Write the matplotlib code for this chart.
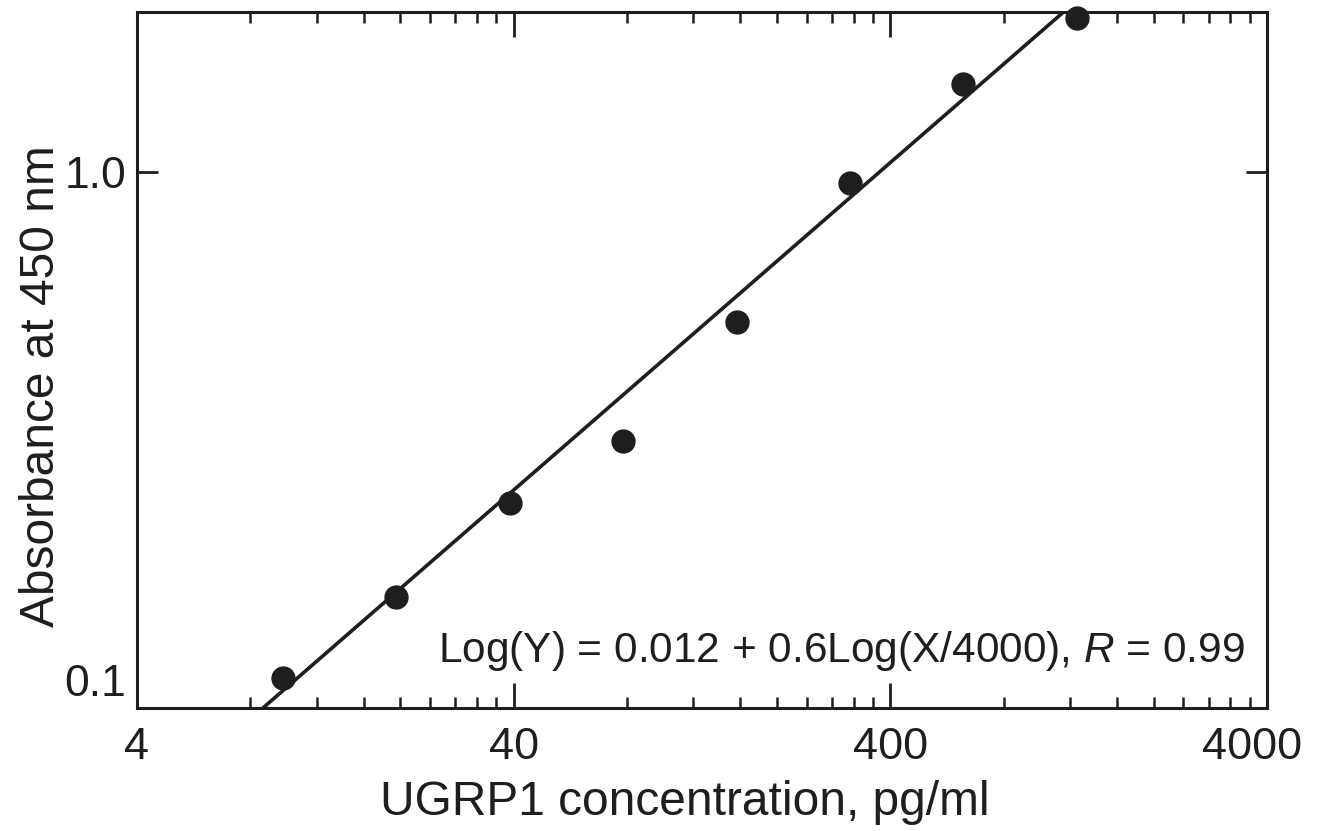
import numpy as np
import matplotlib
matplotlib.use("Agg")
import matplotlib.pyplot as plt
from matplotlib.ticker import FixedLocator, FixedFormatter, NullFormatter
from matplotlib.transforms import ScaledTranslation

plt.rcParams['font.family'] = ['Liberation Sans', 'DejaVu Sans']
plt.rcParams['mathtext.fontset'] = 'custom'
plt.rcParams['mathtext.it'] = 'Liberation Sans:italic'
plt.rcParams['mathtext.rm'] = 'Liberation Sans'

# ---- data ----
conc = [9.77, 19.5, 39.1, 78.1, 156.3, 312.5, 625.0, 1250.0]      # pg/ml
absorb = [0.101, 0.146, 0.223, 0.296, 0.508, 0.954, 1.49, 2.01]   # A450
fit_x = [5.0, 4000.0]            # fitted line drawn across the axes (clipped)
fit_slope = 0.645
fit_logint = -1.659
x_major = [4, 40, 400, 4000]
x_major_labels = ["4", "40", "400", "4000"]
y_major = [0.1, 1.0]
y_major_labels = ["0.1", "1.0"]
equation = r"Log(Y) = 0.012 + 0.6Log(X/4000), $\mathit{R}$ = 0.99"

ink = "#1e1e1e"

fig = plt.figure(figsize=(13.24, 8.31), dpi=100)
ax = fig.add_axes([137/1324, 1-708/831, (1267-137)/1324, (708-12)/831])
ax.set_xscale('log')
ax.set_yscale('log')
ax.set_xlim(4, 4000)
ax.set_ylim(0.0881, 2.07)

fx = np.array(fit_x)
fy = 10**(fit_logint + fit_slope*np.log10(fx))
ax.plot(fx, fy, color=ink, lw=2.6, zorder=2)
ax.plot(conc, absorb, 'o', color=ink, ms=16.5, mec=ink, zorder=3, clip_on=False)

# ticks
ax.xaxis.set_major_locator(FixedLocator(x_major))
ax.xaxis.set_major_formatter(FixedFormatter(x_major_labels))
minor = [m*k*4 for m in (1, 10, 100) for k in range(2, 10)]
ax.xaxis.set_minor_locator(FixedLocator(minor))
ax.xaxis.set_minor_formatter(NullFormatter())
ax.yaxis.set_major_locator(FixedLocator(y_major))
ax.yaxis.set_major_formatter(FixedFormatter(y_major_labels))
ax.yaxis.set_minor_locator(FixedLocator([]))

ax.tick_params(axis='x', which='major', direction='in', length=18, width=2,
               top=True, bottom=True, labelsize=32.5, pad=14, colors=ink)
ax.tick_params(axis='x', which='minor', direction='in', length=8, width=1.8,
               top=True, bottom=True, colors=ink)
ax.tick_params(axis='y', which='major', direction='in', length=15, width=2,
               left=True, right=True, labelsize=32, pad=8, colors=ink)
for t in ax.yaxis.get_major_ticks()[:1]:
    t.tick1line.set_visible(False)
    t.tick2line.set_visible(False)

# the reference places the last x label slightly left of its tick
last = ax.xaxis.get_major_ticks()[-1].label1
last.set_transform(last.get_transform() + ScaledTranslation(-0.15, 0, fig.dpi_scale_trans))

for s in ax.spines.values():
    s.set_linewidth(2.2)
    s.set_color(ink)

ax.set_xlabel("UGRP1 concentration, pg/ml", fontsize=34.5, color=ink)
ax.xaxis.set_label_coords((685-137)/1130, -(780-708)/696)
ax.set_ylabel("Absorbance at 450 nm", fontsize=34.5, color=ink)
ax.yaxis.set_label_coords(-(137-64)/1130, (708-386)/696)

ax.text((1245-137)/1130, (708-662)/696, equation, transform=ax.transAxes,
        ha='right', va='baseline', fontsize=30.5, color=ink)

fig.savefig("out.png", dpi=100)
